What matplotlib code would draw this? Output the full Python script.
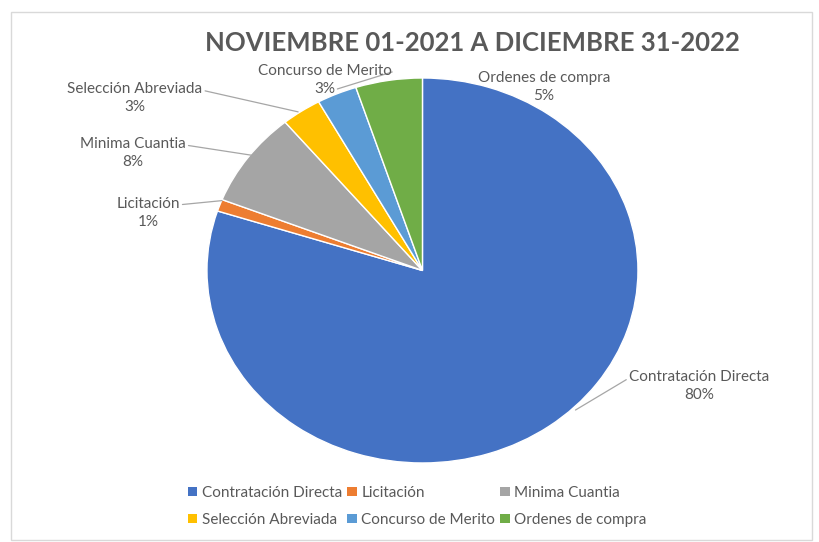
import matplotlib.pyplot as plt
from matplotlib.patches import Patch, Rectangle

categorias = ['Contratación Directa', 'Licitación', 'Minima Cuantia',
              'Selección Abreviada', 'Concurso de Merito', 'Ordenes de compra']
porcentajes = [80, 1, 8, 3, 3, 5]
colores = ['#4472C4', '#ED7D31', '#A5A5A5', '#FFC000', '#5B9BD5', '#70AD47']

titulo = 'NOVIEMBRE 01-2021 A DICIEMBRE 31-2022'
gris_texto = '#595959'

plt.rcParams['font.family'] = ['Lato', 'DejaVu Sans']

fig = plt.figure(figsize=(8.2, 5.42), dpi=100)
ax = fig.add_axes([0.2524, 0.1458, 0.5256, 0.7103])

wedges, _ = ax.pie(porcentajes, colors=colores, startangle=90, counterclock=False,
                   wedgeprops=dict(edgecolor='white', linewidth=1))
ax.set_aspect('auto')
ax.set_xlim(-1, 1)
ax.set_ylim(-1, 1)
ax.axis('off')

# posicion del texto y punto de la linea guia (None = sin linea)
pos_texto = [(1.284, -0.60), (-1.274, 0.30), (-1.344, 0.61),
             (-1.335, 0.895), (-0.451, 0.99), (0.563, 0.955)]
pos_linea = [(0.71, -0.725), (-0.93, 0.363), (-0.777, 0.596),
             (-0.577, 0.824), (-0.395, 0.943), None]

for cat, pct, txt, pt in zip(categorias, porcentajes, pos_texto, pos_linea):
    etiqueta = '%s\n%d%%' % (cat, pct)
    if pt is None:
        ax.text(txt[0], txt[1], etiqueta, ha='center', va='center',
                fontsize=11, color=gris_texto, linespacing=1.35)
    else:
        ax.annotate(etiqueta, xy=pt, xytext=txt, ha='center', va='center',
                    fontsize=11, color=gris_texto, linespacing=1.35,
                    annotation_clip=False,
                    arrowprops=dict(arrowstyle='-', color='#A6A6A6', lw=0.9,
                                    shrinkA=0, shrinkB=0,
                                    relpos=(1.0, 0.75) if txt[0] < pt[0] else (0.0, 0.75)))

fig.text(0.576, 0.921, titulo, ha='center', va='center', fontsize=18.5,
         fontweight='bold', color=gris_texto)

# leyenda por filas: matplotlib llena por columnas, asi que se reordena
orden = [0, 3, 1, 4, 2, 5]
handles = [Patch(facecolor=colores[i], edgecolor='none') for i in orden]
nombres = [categorias[i] for i in orden]
leg = fig.legend(handles, nombres, ncol=3, loc='upper left',
                 bbox_to_anchor=(0.222, 0.115), frameon=False, fontsize=11,
                 handlelength=0.6, handleheight=0.6, handletextpad=0.3,
                 columnspacing=0.35, labelspacing=0.85, borderaxespad=0)
for t in leg.get_texts():
    t.set_color(gris_texto)

# marco del area del grafico
fig.patches.append(Rectangle((11 / 820, 2 / 542), 801 / 820, 528 / 542,
                             transform=fig.transFigure, fill=False,
                             edgecolor='#D9D9D9', linewidth=1))

fig.savefig('out.png', dpi=100)
